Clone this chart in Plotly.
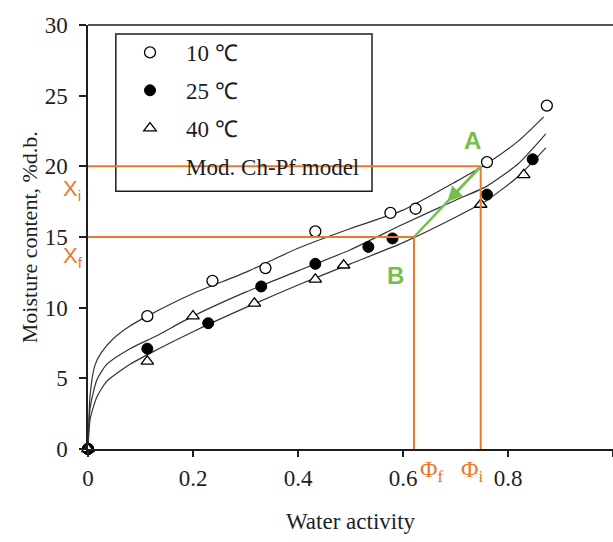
import plotly.graph_objects as go

# ---- data ----
aw_10 = [0, 0.113, 0.237, 0.338, 0.433, 0.576, 0.624, 0.76, 0.874]
mc_10 = [0, 9.4, 11.9, 12.8, 15.4, 16.7, 17.0, 20.3, 24.3]
aw_25 = [0, 0.113, 0.229, 0.33, 0.433, 0.534, 0.58, 0.76, 0.847]
mc_25 = [0, 7.1, 8.9, 11.5, 13.1, 14.3, 14.9, 18.0, 20.5]
aw_40 = [0, 0.113, 0.2, 0.317, 0.433, 0.487, 0.748, 0.83]
mc_40 = [0, 6.2, 9.4, 10.3, 12.0, 13.0, 17.3, 19.4]

# model curves
fit_aw_10 = [0, 0.004, 0.013, 0.025, 0.048, 0.08, 0.113, 0.2, 0.3, 0.4, 0.5, 0.6, 0.7, 0.76, 0.82, 0.868]
fit_mc_10 = [0, 3.8, 5.9, 6.8, 7.8, 8.7, 9.4, 11.0, 12.5, 14.2, 15.6, 16.9, 18.9, 20.2, 21.8, 23.5]
fit_aw_25 = [0, 0.004, 0.017, 0.036, 0.08, 0.13, 0.2, 0.3, 0.4, 0.5, 0.6, 0.7, 0.76, 0.82, 0.872]
fit_mc_25 = [0, 2.9, 4.9, 6.0, 7.1, 8.0, 9.4, 11.1, 12.6, 14.1, 15.9, 17.6, 18.6, 20.2, 22.3]
fit_aw_40 = [0, 0.004, 0.017, 0.036, 0.08, 0.13, 0.2, 0.3, 0.4, 0.5, 0.6, 0.7, 0.76, 0.82, 0.872]
fit_mc_40 = [0, 2.1, 3.7, 4.8, 6.0, 7.0, 8.3, 10.0, 11.6, 13.1, 14.6, 16.4, 17.6, 19.3, 21.3]

# drying path states
phi_i, X_i = 0.748, 20.0   # point A
phi_f, X_f = 0.621, 15.0   # point B

x_ticks = [0, 0.2, 0.4, 0.6, 0.8, 1]
x_tick_text = ["0", "0.2", "0.4", "0.6", "0.8", "1"]
y_ticks = [0, 5, 10, 15, 20, 25, 30]

ORANGE = "#E8782E"
GREEN = "#78BE4A"
INK = "#1e1e1e"
SERIF = "Liberation Serif"
PAD = "\u2002\u2009"

fig = go.Figure()

for fx, fy in [(fit_aw_10, fit_mc_10), (fit_aw_25, fit_mc_25), (fit_aw_40, fit_mc_40)]:
    fig.add_trace(go.Scatter(x=fx, y=fy, mode="lines", line=dict(color="#333333", width=1.2, shape="spline", smoothing=0.6),
                             showlegend=False, hoverinfo="skip"))

fig.add_trace(go.Scatter(x=aw_10, y=mc_10, mode="markers", name=PAD + "10 ℃", legendgroup="g1", cliponaxis=False,
                         marker=dict(symbol="circle", size=11, color="white",
                                     line=dict(color="black", width=1.3))))
fig.add_trace(go.Scatter(x=aw_25, y=mc_25, mode="markers", name=PAD + "25 ℃", legendgroup="g2", cliponaxis=False,
                         marker=dict(symbol="circle", size=11, color="black",
                                     line=dict(color="black", width=1))))
fig.add_trace(go.Scatter(x=aw_40, y=mc_40, mode="markers", name=PAD + "40 ℃", legendgroup="g3", cliponaxis=False,
                         marker=dict(symbol="triangle-up", size=11, color="white",
                                     line=dict(color="black", width=1.3))))
fig.add_trace(go.Scatter(x=[None], y=[None], mode="lines", name=PAD + "Mod. Ch-Pf model", legendgroup="g4",
                         line=dict(width=0, color="rgba(0,0,0,0)")))

shapes = [
    # legend box
    dict(type="rect", xref="paper", yref="paper", x0=0.053, x1=0.541, y0=0.608, y1=0.979,
         line=dict(color=INK, width=1.5), fillcolor="rgba(0,0,0,0)", layer="below"),
    # top border
    dict(type="line", xref="paper", yref="paper", x0=0, x1=1, y0=1, y1=1,
         line=dict(color=INK, width=1.5)),
    # orange guide lines
    dict(type="line", xref="x", yref="y", x0=0, x1=phi_i, y0=X_i, y1=X_i, line=dict(color=ORANGE, width=2)),
    dict(type="line", xref="x", yref="y", x0=phi_i, x1=phi_i, y0=X_i, y1=0, line=dict(color=ORANGE, width=2)),
    dict(type="line", xref="x", yref="y", x0=0, x1=phi_f, y0=X_f, y1=X_f, line=dict(color=ORANGE, width=2)),
    dict(type="line", xref="x", yref="y", x0=phi_f, x1=phi_f, y0=X_f, y1=0, line=dict(color=ORANGE, width=2)),
    # green path A -> B
    dict(type="line", xref="x", yref="y", x0=phi_i, x1=phi_f, y0=X_i, y1=X_f, line=dict(color=GREEN, width=2.5)),
]

mid_x = (phi_i + phi_f) / 2
mid_y = (X_i + X_f) / 2
annotations = [
    dict(x=mid_x, y=mid_y, ax=phi_i, ay=X_i, xref="x", yref="y", axref="x", ayref="y",
         showarrow=True, arrowhead=2, arrowsize=1.2, arrowwidth=2.5, arrowcolor=GREEN, text=""),
    dict(x=phi_i, y=X_i, xref="x", yref="y", text="<b>A</b>", showarrow=False,
         xshift=-8, yshift=26, font=dict(family="Liberation Sans", size=24, color=GREEN)),
    dict(x=phi_f, y=X_f, xref="x", yref="y", text="<b>B</b>", showarrow=False,
         xshift=-19, yshift=-38, font=dict(family="Liberation Sans", size=24, color=GREEN)),
    dict(x=phi_f, y=0, xref="x", yref="y", text="Φ<sub>f</sub>", showarrow=False,
         xshift=18, yshift=-22, font=dict(family=SERIF, size=24, color=ORANGE)),
    dict(x=phi_i, y=0, xref="x", yref="y", text="Φ<sub>i</sub>", showarrow=False,
         xshift=-8, yshift=-22, font=dict(family=SERIF, size=24, color=ORANGE)),
    dict(x=0, y=X_i, xref="paper", yref="y", text="X<sub>i</sub>", showarrow=False,
         xshift=-27, yshift=-24, font=dict(family="Liberation Sans", size=22, color=ORANGE)),
    dict(x=0, y=X_f, xref="paper", yref="y", text="X<sub>f</sub>", showarrow=False,
         xshift=-27, yshift=-20, font=dict(family="Liberation Sans", size=22, color=ORANGE)),
    dict(x=0.5, y=-0.17, xref="paper", yref="paper", text="Water activity", showarrow=False,
         xanchor="center", yanchor="middle", font=dict(family=SERIF, size=23, color=INK)),
    dict(x=-0.112, y=0.5, xref="paper", yref="paper", text="Moisture content, %d.b.", showarrow=False,
         textangle=-90, xanchor="center", yanchor="middle", font=dict(family=SERIF, size=22, color=INK)),
]

fig.update_layout(
    width=613, height=542,
    margin=dict(l=88, r=0, t=25, b=93, autoexpand=False),
    paper_bgcolor="white", plot_bgcolor="white",
    font=dict(family=SERIF, size=23, color=INK),
    shapes=shapes, annotations=annotations,
    legend=dict(x=0.08, y=0.986, xanchor="left", yanchor="top", bgcolor="rgba(0,0,0,0)",
                borderwidth=0, tracegroupgap=5, traceorder="grouped",
                font=dict(family=SERIF, size=23, color=INK)),
    showlegend=True,
)
fig.update_xaxes(range=[0, 1], tickvals=x_ticks, ticktext=x_tick_text, showgrid=False, zeroline=False,
                 showline=True, linecolor=INK, linewidth=1.5, ticks="outside", ticklen=6,
                 tickcolor=INK, tickwidth=1.5, automargin=False, ticklabelstandoff=2,
                 tickfont=dict(family=SERIF, size=23, color=INK))
fig.update_yaxes(range=[0, 30], tickvals=y_ticks, showgrid=False, zeroline=False,
                 showline=True, linecolor=INK, linewidth=1.5, ticks="outside", ticklen=7,
                 tickcolor=INK, tickwidth=1.5, automargin=False, ticklabelstandoff=7,
                 tickfont=dict(family=SERIF, size=23, color=INK))

fig.write_html("out.html")
